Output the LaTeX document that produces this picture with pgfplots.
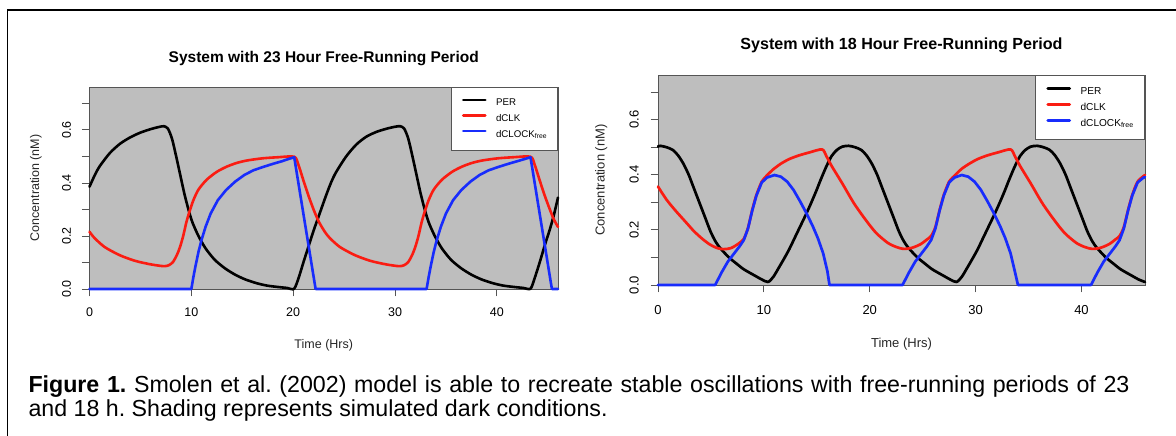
\documentclass[border=0pt]{standalone}
\usepackage{fontspec}
\setmainfont{Liberation Sans}
\usepackage{pgfplots}
\pgfplotsset{compat=1.18}
\frenchspacing

\definecolor{panelgray}{RGB}{190,190,190}
\definecolor{framegray}{RGB}{85,85,85}
\definecolor{perblack}{RGB}{0,0,0}
\definecolor{clkred}{RGB}{250,28,18}
\definecolor{clockblue}{RGB}{24,44,252}

% shared look of both panels (R base-graphics style)
\pgfplotsset{
  clockpanel/.style={
    scale only axis,
    xmin=0, xmax=46, ymin=0, ymax=0.762,
    clip=false,
    axis background/.style={fill=panelgray},
    axis line style={framegray, line width=0.9bp},
    every tick/.style={framegray, line width=0.9bp},
    tick align=outside, tick pos=left,
    major tick length=7.5bp,
    xtick={0,10,20,30,40},
    xticklabels={0,10,20,30,40},
    ytick={0,0.1,0.2,0.3,0.4,0.5,0.6,0.7},
    yticklabels={0.0,,0.2,,0.4,,0.6,},
    /pgf/number format/assume math mode=true,
    every axis title shift=0pt,
    legend cell align=left,
    legend style={at={(1,1)}, anchor=north east, draw=framegray,
      fill=white, line width=0.8bp,
      nodes={inner sep=0pt, text height=7bp, text depth=2bp}},
    legend image code/.code={%
      \draw[##1] (0bp,3.5bp) -- (22bp,3.5bp);
      \path (0bp,0bp) (31.5bp,0bp);},
    every axis plot/.append style={line cap=round, line join=round},
  },
  perline/.style={perblack, line width=#1, smooth, tension=0.45},
  clkline/.style={clkred, line width=#1, smooth, tension=0.45},
  clockline/.style={clockblue, line width=#1},
}

\begin{document}
\begin{tikzpicture}
\useasboundingbox (0,0) rectangle (1176bp,436bp);

% outer frame of the figure panel
\draw[line width=1.5bp] (7.5bp,0bp) -- (7.5bp,426bp) -- (1176bp,426bp);

% ---------------- 23 h free-running period ----------------
\begin{axis}[clockpanel,
  at={(89.5bp,147bp)}, anchor=south west,
  width=468.5bp, height=202bp,
  xticklabel style={font=\fontsize{12.5bp}{15bp}\selectfont, anchor=base, yshift=-20bp},
  yticklabel style={font=\fontsize{12.5bp}{15bp}\selectfont, xshift=-11bp, rotate=90, anchor=base},
  title={System with 23 Hour Free-Running Period},
  title style={font=\bfseries\fontsize{15.5bp}{18bp}\selectfont, at={(0.5,1)}, anchor=base, yshift=24.5bp},
  xlabel={Time (Hrs)},
  every axis x label/.style={at={(axis description cs:0.5,0)}, anchor=base, yshift=-59.5bp,
    font=\fontsize{12.5bp}{15bp}\selectfont, text=black!85},
  ylabel={Concentration (nM)},
  every axis y label/.style={at={(axis description cs:0,0.5)}, xshift=-50.5bp, rotate=90, anchor=base,
    font=\fontsize{12.5bp}{15bp}\selectfont, text=black!85},
  legend style={font=\fontsize{9.7bp}{11bp}\selectfont,
    inner xsep=10.5bp, inner ysep=11.2bp, row sep=6.35bp},
]
\addplot[perline=2.6bp] table[row sep=\\] {
0 0.386\\ 0.5 0.428\\ 1 0.463\\ 2 0.513\\ 3 0.548\\ 4 0.572\\ 5 0.590\\ 6 0.603\\
6.8 0.611\\ 7.3 0.614\\ 7.7 0.605\\ 8.1 0.567\\ 8.5 0.502\\ 8.9 0.432\\ 9.3 0.362\\
9.7 0.302\\ 10.1 0.252\\ 10.7 0.200\\ 11.4 0.153\\ 12.3 0.110\\ 13.3 0.078\\ 14.3 0.054\\
15.3 0.036\\ 16.4 0.022\\ 17.4 0.013\\ 18.4 0.008\\ 19.4 0.004\\ 20.1 0.001\\
20.6 0.050\\ 21.0 0.100\\ 21.5 0.160\\ 22.0 0.220\\ 22.6 0.285\\ 23.2 0.350\\ 23.7 0.400\\
24.2 0.440\\ 25.2 0.500\\ 26.2 0.545\\ 27.2 0.575\\ 28.2 0.593\\ 29.2 0.605\\ 30.0 0.612\\
30.5 0.614\\ 30.9 0.605\\ 31.3 0.567\\ 31.7 0.502\\ 32.1 0.432\\ 32.5 0.362\\ 32.9 0.302\\
33.3 0.252\\ 33.9 0.200\\ 34.6 0.153\\ 35.5 0.110\\ 36.5 0.078\\ 37.5 0.054\\ 38.5 0.036\\
39.6 0.022\\ 40.6 0.013\\ 41.6 0.008\\ 42.6 0.004\\ 43.3 0.001\\ 43.7 0.040\\ 44.2 0.100\\
44.7 0.165\\ 45.2 0.225\\ 45.6 0.280\\ 46.0 0.345\\
};
\addlegendentry{PER}
\addplot[clkline=2.6bp] table[row sep=\\] {
0 0.216\\ 0.5 0.192\\ 1.5 0.158\\ 3 0.127\\ 4.5 0.106\\ 6 0.093\\ 7.3 0.086\\ 7.8 0.090\\
8.2 0.102\\ 8.6 0.130\\ 8.9 0.160\\ 9.2 0.200\\ 9.5 0.250\\ 9.8 0.290\\ 10.2 0.335\\
10.7 0.375\\ 11.5 0.412\\ 12.5 0.442\\ 13.5 0.462\\ 14.5 0.476\\ 15.5 0.485\\ 17.0 0.493\\
18.5 0.497\\ 20.1 0.499\\ 20.5 0.470\\ 21.0 0.410\\ 21.5 0.352\\ 22.0 0.300\\ 22.5 0.255\\
23.1 0.216\\ 23.6 0.192\\ 24.6 0.158\\ 26.1 0.127\\ 27.6 0.106\\ 29.1 0.093\\ 30.4 0.086\\
30.9 0.090\\ 31.3 0.102\\ 31.7 0.130\\ 32.0 0.160\\ 32.3 0.200\\ 32.6 0.250\\ 32.9 0.290\\
33.3 0.335\\ 33.8 0.375\\ 34.6 0.412\\ 35.6 0.442\\ 36.6 0.462\\ 37.6 0.476\\ 38.6 0.485\\
40.1 0.493\\ 41.6 0.497\\ 43.3 0.499\\ 43.7 0.470\\ 44.2 0.410\\ 44.7 0.352\\ 45.2 0.300\\
45.6 0.262\\ 46.0 0.234\\
};
\addlegendentry{dCLK}
\addplot[clockline=2.6bp] table[row sep=\\] {
0 0\\ 10.0 0\\ 10.2 0.045\\ 10.4 0.085\\ 10.7 0.140\\ 11.0 0.185\\ 11.4 0.235\\ 11.9 0.285\\
12.6 0.335\\ 13.4 0.373\\ 14.3 0.405\\ 15.2 0.430\\ 16.1 0.448\\ 17.1 0.461\\ 18.0 0.472\\
18.9 0.482\\ 19.5 0.490\\ 20.1 0.497\\ 22.2 0\\ 33.1 0\\ 33.3 0.045\\ 33.5 0.085\\
33.8 0.140\\ 34.1 0.185\\ 34.5 0.235\\ 35.0 0.285\\ 35.7 0.335\\ 36.5 0.373\\ 37.4 0.405\\
38.3 0.430\\ 39.2 0.448\\ 40.2 0.461\\ 41.1 0.472\\ 42.0 0.482\\ 42.7 0.490\\ 43.3 0.497\\
45.4 0\\ 46.0 0\\
};
\addlegendentry{dCLOCK\textsubscript{free}}
\end{axis}

% ---------------- 18 h free-running period ----------------
\begin{axis}[clockpanel,
  at={(658bp,151bp)}, anchor=south west,
  width=487bp, height=210bp,
  xticklabel style={font=\fontsize{13bp}{15.6bp}\selectfont, anchor=base, yshift=-21.7bp},
  yticklabel style={font=\fontsize{13bp}{15.6bp}\selectfont, xshift=-12bp, rotate=90, anchor=base},
  title={System with 18 Hour Free-Running Period},
  title style={font=\bfseries\fontsize{16.1bp}{19bp}\selectfont, at={(0.5,1)}, anchor=base, yshift=25.5bp},
  xlabel={Time (Hrs)},
  every axis x label/.style={at={(axis description cs:0.5,0)}, anchor=base, yshift=-62.7bp,
    font=\fontsize{13bp}{15.6bp}\selectfont, text=black!85},
  ylabel={Concentration (nM)},
  every axis y label/.style={at={(axis description cs:0,0.5)}, xshift=-53.3bp, rotate=90, anchor=base,
    font=\fontsize{13bp}{15.6bp}\selectfont, text=black!85},
  legend style={font=\fontsize{10.1bp}{12bp}\selectfont,
    inner xsep=10.9bp, inner ysep=11.6bp, row sep=6.6bp},
]
\addplot[perline=2.7bp] table[row sep=\\] {
0 0.502\\ 0.2 0.505\\ 0.8 0.500\\ 1.4 0.490\\ 1.9 0.470\\ 2.4 0.440\\ 2.9 0.400\\ 3.3 0.360\\
3.7 0.320\\ 4.05 0.285\\ 4.5 0.240\\ 4.95 0.195\\ 5.4 0.160\\ 5.85 0.135\\ 6.7 0.100\\
7.4 0.078\\ 8.1 0.057\\ 9.1 0.035\\ 9.8 0.020\\ 10.4 0.011\\ 10.9 0.030\\ 11.4 0.062\\
11.9 0.095\\ 12.4 0.130\\ 12.9 0.170\\ 13.4 0.210\\ 13.9 0.250\\ 14.4 0.292\\ 14.9 0.337\\
15.4 0.385\\ 15.9 0.430\\ 16.4 0.468\\ 16.9 0.490\\ 17.4 0.502\\ 18.0 0.505\\ 18.6 0.500\\
19.2 0.490\\ 19.7 0.470\\ 20.2 0.440\\ 20.7 0.400\\ 21.1 0.360\\ 21.5 0.320\\ 21.85 0.285\\
22.3 0.240\\ 22.75 0.195\\ 23.2 0.160\\ 23.65 0.135\\ 24.5 0.100\\ 25.2 0.078\\ 25.9 0.057\\
26.9 0.035\\ 27.6 0.020\\ 28.2 0.011\\ 28.7 0.030\\ 29.2 0.062\\ 29.7 0.095\\ 30.2 0.130\\
30.7 0.170\\ 31.2 0.210\\ 31.7 0.250\\ 32.2 0.292\\ 32.7 0.337\\ 33.2 0.385\\ 33.7 0.430\\
34.2 0.468\\ 34.7 0.490\\ 35.2 0.502\\ 35.8 0.505\\ 36.4 0.500\\ 37.0 0.490\\ 37.5 0.470\\
38.0 0.440\\ 38.5 0.400\\ 38.9 0.360\\ 39.3 0.320\\ 39.65 0.285\\ 40.1 0.240\\ 40.55 0.195\\
41.0 0.160\\ 41.45 0.135\\ 42.3 0.100\\ 43.0 0.078\\ 43.7 0.057\\ 44.7 0.035\\ 45.4 0.020\\
46.0 0.011\\
};
\addlegendentry{PER}
\addplot[clkline=2.7bp] table[row sep=\\] {
0 0.357\\ 0.8 0.310\\ 1.65 0.270\\ 2.7 0.225\\ 3.4 0.195\\ 4.2 0.167\\ 4.9 0.147\\ 5.6 0.134\\
6.2 0.130\\ 6.9 0.134\\ 7.6 0.150\\ 8.1 0.167\\ 8.5 0.207\\ 8.9 0.272\\ 9.3 0.327\\
9.8 0.375\\ 10.3 0.398\\ 10.9 0.420\\ 11.6 0.440\\ 12.4 0.457\\ 13.3 0.470\\ 14.3 0.481\\
15.5 0.492\\ 15.9 0.468\\ 16.4 0.432\\ 17.4 0.369\\ 18.5 0.297\\ 19.6 0.237\\ 20.6 0.189\\
21.7 0.153\\ 22.5 0.138\\ 23.2 0.131\\ 24.0 0.135\\ 24.8 0.148\\ 25.4 0.165\\ 25.8 0.178\\
26.2 0.210\\ 26.6 0.272\\ 27.0 0.327\\ 27.5 0.375\\ 28.1 0.400\\ 28.7 0.422\\ 29.4 0.440\\
30.2 0.457\\ 31.1 0.470\\ 32.1 0.481\\ 33.3 0.492\\ 33.7 0.468\\ 34.2 0.432\\ 35.2 0.369\\
36.3 0.297\\ 37.4 0.237\\ 38.4 0.189\\ 39.5 0.153\\ 40.3 0.138\\ 41.0 0.131\\ 41.8 0.135\\
42.6 0.148\\ 43.2 0.165\\ 43.6 0.178\\ 44.0 0.210\\ 44.4 0.272\\ 44.8 0.327\\ 45.3 0.375\\
46.0 0.399\\
};
\addlegendentry{dCLK}
\addplot[clockline=2.7bp] table[row sep=\\] {
0 0\\ 5.4 0\\ 6.0 0.045\\ 6.6 0.085\\ 7.2 0.115\\ 7.7 0.140\\ 8.1 0.163\\ 8.5 0.205\\
8.9 0.270\\ 9.3 0.325\\ 9.8 0.372\\ 10.3 0.390\\ 11.0 0.399\\ 11.6 0.393\\ 12.2 0.375\\
12.8 0.345\\ 13.4 0.305\\ 14.0 0.262\\ 14.6 0.215\\ 15.1 0.170\\ 15.6 0.115\\ 16.0 0.050\\
16.2 0\\ 23.1 0\\ 23.7 0.045\\ 24.3 0.085\\ 24.9 0.115\\ 25.4 0.140\\ 25.8 0.163\\
26.2 0.205\\ 26.6 0.270\\ 27.0 0.325\\ 27.5 0.372\\ 28.0 0.390\\ 28.7 0.399\\ 29.3 0.393\\
29.9 0.375\\ 30.5 0.345\\ 31.1 0.305\\ 31.7 0.262\\ 32.3 0.215\\ 32.8 0.170\\ 33.3 0.115\\
33.7 0.050\\ 34.0 0\\ 40.9 0\\ 41.5 0.045\\ 42.1 0.085\\ 42.7 0.115\\ 43.2 0.140\\
43.6 0.163\\ 44.0 0.205\\ 44.4 0.270\\ 44.8 0.325\\ 45.3 0.372\\ 45.8 0.388\\ 46.0 0.392\\
};
\addlegendentry{dCLOCK\textsubscript{free}}
\end{axis}

% figure caption (first line set justified)
\node[anchor=base west, inner sep=0pt, font=\fontsize{23.2bp}{24bp}\selectfont]
  at (28.3bp,43bp)
  {\makebox[1101bp][s]{\textbf{Figure 1.} Smolen et al. (2002) model is able to recreate stable oscillations with free-running periods of 23}};
\node[anchor=base west, inner sep=0pt, font=\fontsize{23.2bp}{24bp}\selectfont]
  at (28.3bp,20bp)
  {and 18 h. Shading represents simulated dark conditions.};
\end{tikzpicture}
\end{document}
